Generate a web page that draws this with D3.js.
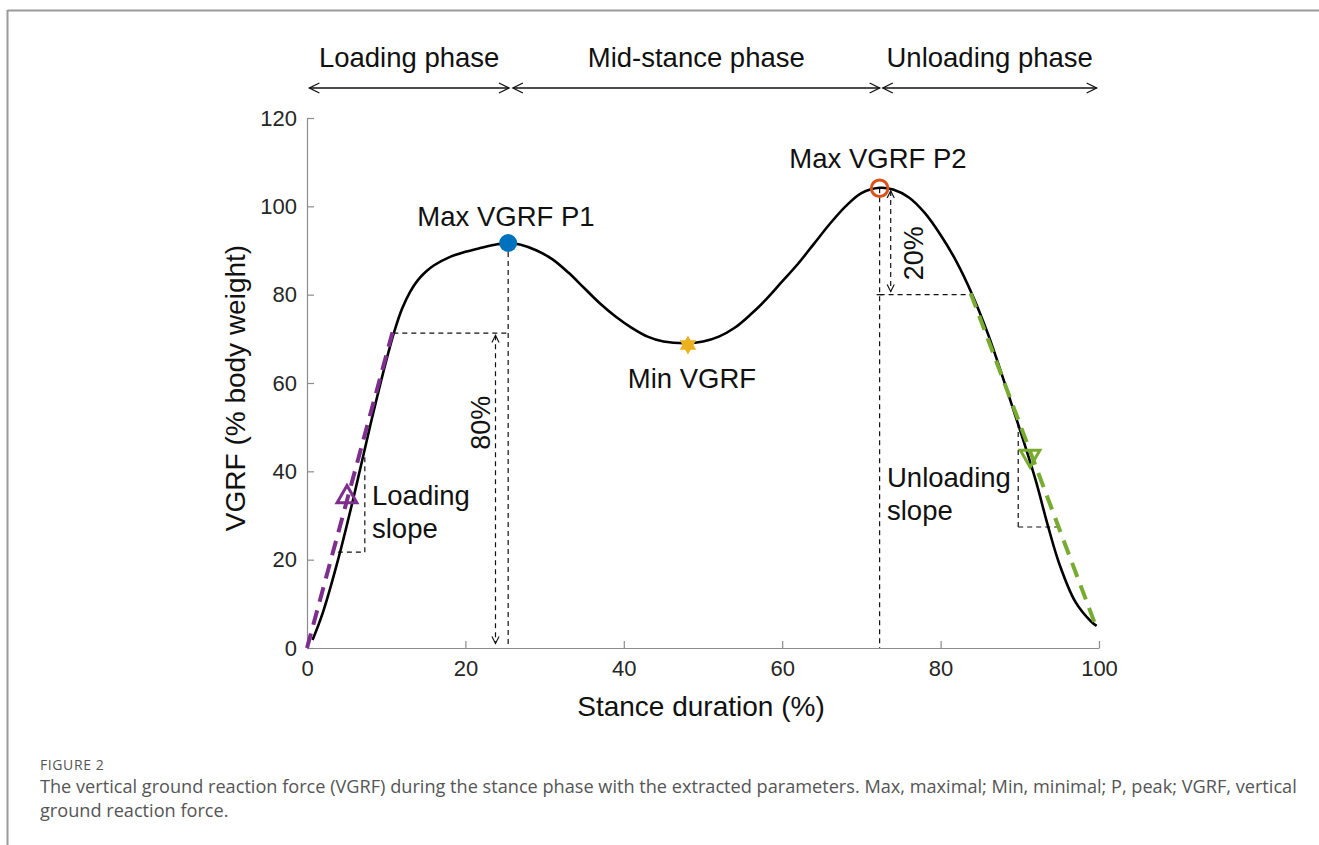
<!DOCTYPE html>
<html><head><meta charset="utf-8">
<script src="https://cdn.jsdelivr.net/npm/d3@7"></script>
<style>
html,body{margin:0;padding:0;background:#fff;}
svg{display:block;}
</style></head>
<body>
<svg id="chart" width="1319" height="845"></svg>
<script>
// ---- data ----
const stanceX = [0.7,2,4,6,8,10,11,12,13,14,15,16,18,20,22,24,25.5,27,29,31,33,35,37,39,41,43,45,48,50,52,54,56,58,60,62,64,66,68,70,72.3,74,76,78,80,82,84,86,88,90,92,93.5,95,97,99,99.7];
const vgrf    = [1.8,8,20.5,35,50.5,65,71.5,76.8,80.6,83.3,85.2,86.6,88.5,89.7,90.6,91.4,91.7,91.3,90,88,85,81.5,78,75,72.5,70.5,69.4,69,69.4,70.5,72.5,75.5,79,83,87,91.5,96,100,103,104.2,103.8,102,98.5,93.5,87.5,80,71,60.5,49.5,38,28,19,10.5,6,5];
const xTicks = [0,20,40,60,80,100];
const yTicks = [0,20,40,60,80,100,120];
const phaseNames = ["Loading phase","Mid-stance phase","Unloading phase"];
const phaseStart = [0.3,26.0,72.7];
const phaseEnd   = [25.5,72.3,99.7];
const loadingSlope = {x:[0,10.8], y:[0,71.5]};
const unloadingSlope = {x:[83.8,99.7], y:[80.3,4.5]};
const peak1 = {x:25.4, y:91.7};
const peak2 = {x:72.3, y:104.1};
const minPt = {x:48.1, y:68.6};
const loadTri = {x:5.05, y:34.2};
const unloadTri = {x:91.3, y:43.5};

const svg = d3.select("#chart");
const W=1319,H=845;
// frame
svg.append("line").attr("x1",7.5).attr("x2",W).attr("y1",10.5).attr("y2",10.5).attr("stroke","#9a9a9a").attr("stroke-width",2);
svg.append("line").attr("x1",7.5).attr("x2",7.5).attr("y1",10).attr("y2",H).attr("stroke","#9a9a9a").attr("stroke-width",2);

const x = d3.scaleLinear().domain([0,100]).range([307,1099]);
const y = d3.scaleLinear().domain([0,120]).range([648,118]);
const FONT = "'Liberation Sans', Arial, sans-serif";

// axes
const gx = svg.append("g").attr("transform",`translate(0,${y(0)})`)
  .call(d3.axisBottom(x).tickValues(xTicks).tickSizeInner(-7).tickSizeOuter(0).tickPadding(12));
const gy = svg.append("g").attr("transform",`translate(${x(0)},0)`)
  .call(d3.axisLeft(y).tickValues(yTicks).tickSizeInner(-7).tickSizeOuter(0).tickPadding(10));
[gx,gy].forEach(g=>{
  g.selectAll("path,line").attr("stroke","#8c8c8c").attr("stroke-width",1.2);
  g.selectAll("text").attr("font-family",FONT).attr("font-size",22).attr("fill","#262626");
});
svg.append("text").attr("x",701).attr("y",716).attr("text-anchor","middle")
  .attr("font-family",FONT).attr("font-size",28).attr("fill","#111").text("Stance duration (%)");
svg.append("text").attr("transform",`translate(245,${(y(0)+y(120))/2+5}) rotate(-90)`).attr("text-anchor","middle")
  .attr("font-family",FONT).attr("font-size",28).attr("fill","#111").text("VGRF (% body weight)");

// arrow markers
const defs = svg.append("defs");
function mk(id, size, sw){
  defs.append("marker").attr("id",id).attr("viewBox","-12 -7 14 14").attr("refX",0).attr("refY",0)
    .attr("markerWidth",size).attr("markerHeight",size).attr("markerUnits","userSpaceOnUse").attr("orient","auto-start-reverse")
    .append("path").attr("d","M-10,-5 L0,0 L-10,5").attr("fill","none").attr("stroke","#111").attr("stroke-width",sw);
}
mk("ah",14,1.3);
mk("ahs",10,1.6);

// phase arrows
phaseNames.forEach((n,i)=>{
  svg.append("line").attr("x1",x(phaseStart[i])).attr("x2",x(phaseEnd[i])).attr("y1",88).attr("y2",88)
    .attr("stroke","#111").attr("stroke-width",1.4).attr("marker-start","url(#ah)").attr("marker-end","url(#ah)");
  svg.append("text").attr("x",(x(phaseStart[i])+x(phaseEnd[i]))/2).attr("y",67).attr("text-anchor","middle")
    .attr("font-family",FONT).attr("font-size",27.5).attr("fill","#111").text(n);
});

const dash = "5,4";
function dline(x1,y1,x2,y2){
  return svg.append("line").attr("x1",x(x1)).attr("y1",y(y1)).attr("x2",x(x2)).attr("y2",y(y2))
    .attr("stroke","#111").attr("stroke-width",1.2).attr("stroke-dasharray",dash);
}
// 80% annotation
dline(10.9,71.3, peak1.x,71.3);
dline(peak1.x,peak1.y, peak1.x,0);
dline(23.8,70.8, 23.8,1).attr("marker-start","url(#ahs)").attr("marker-end","url(#ahs)");
svg.append("text").attr("transform",`translate(${x(23.2)-1},${y(51)}) rotate(-90)`).attr("text-anchor","middle")
  .attr("font-family",FONT).attr("font-size",27).attr("fill","#111").text("80%");
// 20% annotation
dline(peak2.x,peak2.y, peak2.x,0);
dline(peak2.x,80, 83.8,80);
dline(73.7,103.5, 73.7,80.7).attr("marker-start","url(#ahs)").attr("marker-end","url(#ahs)");
svg.append("text").attr("transform",`translate(923,${y(89.4)}) rotate(-90)`).attr("text-anchor","middle")
  .attr("font-family",FONT).attr("font-size",27).attr("fill","#111").text("20%");
svg.append("line").attr("x1",x(peak2.x)-3).attr("x2",x(peak2.x)+3).attr("y1",y(80)).attr("y2",y(80)).attr("stroke","#111").attr("stroke-width",1.2);
// slope brackets
dline(3.9,21.7, 7.3,21.7);
dline(7.3,21.7, 7.3,43.5);
dline(89.8,27.4, 95.1,27.4);
dline(89.8,27.4, 89.8,52.5);

// curve
const pts = stanceX.map((d,i)=>[d,vgrf[i]]);
const line = d3.line().x(d=>x(d[0])).y(d=>y(d[1])).curve(d3.curveCatmullRom.alpha(0.5));
svg.append("path").attr("d",line(pts)).attr("fill","none").attr("stroke","#000").attr("stroke-width",2.6);

// slope dashed lines
const l2 = d3.line().x(d=>x(d[0])).y(d=>y(d[1]));
svg.append("path").attr("d",l2(loadingSlope.x.map((d,i)=>[d,loadingSlope.y[i]])))
  .attr("stroke","#7E2F8E").attr("stroke-width",4).attr("stroke-dasharray","15,9").attr("fill","none");
svg.append("path").attr("d",l2(unloadingSlope.x.map((d,i)=>[d,unloadingSlope.y[i]])))
  .attr("stroke","#77AC30").attr("stroke-width",4).attr("stroke-dasharray","15,9").attr("fill","none");

// markers
svg.append("circle").attr("cx",x(peak1.x)).attr("cy",y(peak1.y)).attr("r",9).attr("fill","#0072BD");
svg.append("circle").attr("cx",x(peak2.x)).attr("cy",y(peak2.y)).attr("r",8.3).attr("fill","none").attr("stroke","#D95319").attr("stroke-width",3);
// hexagram
(function(){
  const cx=x(minPt.x), cy=y(minPt.y), R=9.5, r=5.5; const p=[];
  for(let k=0;k<12;k++){const a=-Math.PI/2+k*Math.PI/6; const rr=k%2?r:R; p.push([cx+rr*Math.cos(a),cy+rr*Math.sin(a)]);}
  svg.append("path").attr("d","M"+p.join("L")+"Z").attr("fill","#EDB120");
})();
svg.append("path").attr("transform",`translate(${x(loadTri.x)},${y(loadTri.y)})`)
  .attr("d",d3.symbol(d3.symbolTriangle,170)()).attr("fill","none").attr("stroke","#7E2F8E").attr("stroke-width",3);
svg.append("path").attr("transform",`translate(${x(unloadTri.x)},${y(unloadTri.y)}) rotate(180)`)
  .attr("d",d3.symbol(d3.symbolTriangle,165)()).attr("fill","none").attr("stroke","#77AC30").attr("stroke-width",3);

// labels
function lab(t,px,py,anchor){svg.append("text").attr("x",px).attr("y",py).attr("text-anchor",anchor||"middle")
  .attr("font-family",FONT).attr("font-size",27.5).attr("fill","#111").text(t);}
lab("Max VGRF P1", 506, 226);
lab("Max VGRF P2", 878, 168);
lab("Min VGRF", 692, 388);
lab("Loading", 372, 505, "start");
lab("slope", 372, 538, "start");
lab("Unloading", 887, 487, "start");
lab("slope", 887, 520, "start");

// caption
const CF = "'Open Sans', 'Noto Sans', sans-serif";
svg.append("text").attr("x",40).attr("y",770).attr("font-family",CF).attr("font-size",14).attr("letter-spacing",0.6).attr("fill","#555").text("FIGURE 2");
svg.append("text").attr("x",40).attr("y",793).attr("font-family",CF).attr("font-size",18.15).attr("fill","#555")
  .text("The vertical ground reaction force (VGRF) during the stance phase with the extracted parameters. Max, maximal; Min, minimal; P, peak; VGRF, vertical");
svg.append("text").attr("x",40).attr("y",817).attr("font-family",CF).attr("font-size",18.15).attr("fill","#555")
  .text("ground reaction force.");
</script>
</body></html>
